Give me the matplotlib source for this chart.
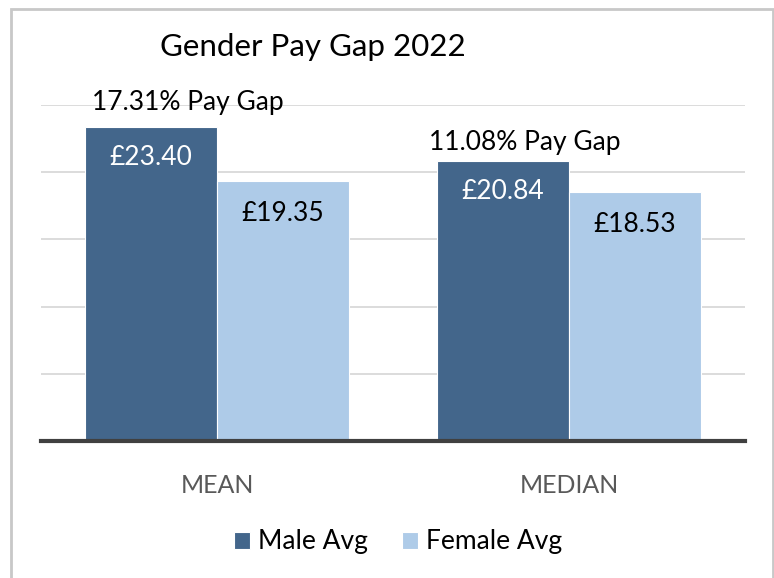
import matplotlib.pyplot as plt
import numpy as np
from matplotlib.patches import Rectangle

plt.rcParams['font.family'] = ['Lato', 'DejaVu Sans']

# data
categories = ["MEAN", "MEDIAN"]
male_avg = [23.40, 20.84]
female_avg = [19.35, 18.53]
pay_gap = ["17.31% Pay Gap", "11.08% Pay Gap"]

male_color = "#43668B"
female_color = "#AECBE8"

fig = plt.figure(figsize=(7.74, 5.78), dpi=100)
W, H = 774, 578

# grey chart frame
fig.patches.append(Rectangle((11 / W, -0.05), (773 - 11) / W, 1.05 - 9 / H,
                             transform=fig.transFigure, fill=False,
                             edgecolor="#C8C8C8", linewidth=2))

ax = fig.add_axes([41 / W, 1 - 441 / H, 704 / W, (441 - 105) / H])

x = np.arange(len(categories))
w = 0.375
b1 = ax.bar(x - w / 2, male_avg, w, color=male_color, edgecolor="white",
            linewidth=0.8, label="Male Avg", zorder=3)
b2 = ax.bar(x + w / 2, female_avg, w, color=female_color, edgecolor="white",
            linewidth=0.8, label="Female Avg", zorder=3)

ax.set_xlim(-0.5, 1.5)
ax.set_ylim(0, 25)
ax.set_yticks([5, 10, 15, 20, 25])
ax.yaxis.grid(True, color="#D9D9D9", linewidth=1.3, zorder=0)
ax.tick_params(axis="y", left=False, labelleft=False)
ax.tick_params(axis="x", bottom=False, labelsize=18, labelcolor="#595959", pad=20)
ax.set_xticks(x)
ax.set_xticklabels(categories)
for s in ["top", "right", "left"]:
    ax.spines[s].set_visible(False)
ax.spines["bottom"].set_color("#404040")
ax.spines["bottom"].set_linewidth(3)
ax.spines["bottom"].set_zorder(4)

# value labels inside the bars
for i in range(len(categories)):
    ax.annotate(f"£{male_avg[i]:.2f}", (x[i] - w / 2, male_avg[i]), xytext=(0, -31),
                textcoords="offset pixels", ha="center", va="center",
                color="white", fontsize=19, zorder=5)
    ax.annotate(f"£{female_avg[i]:.2f}", (x[i] + w / 2, female_avg[i]), xytext=(0, -33),
                textcoords="offset pixels", ha="center", va="center",
                color="black", fontsize=19, zorder=5)

# pay gap annotations
ax.annotate(pay_gap[0], (x[0] - w / 2, male_avg[0]), xytext=(37, 24),
            textcoords="offset pixels", ha="center", va="center", fontsize=19)
ax.annotate(pay_gap[1], (x[1] - w / 2, male_avg[1]), xytext=(22, 18),
            textcoords="offset pixels", ha="center", va="center", fontsize=19)

fig.text(313 / W, 1 - 47 / H, "Gender Pay Gap 2022", ha="center", va="center",
         fontsize=22.5)

fig.legend(handles=[b1, b2], loc="center", bbox_to_anchor=(398 / W, 1 - 542 / H),
           ncol=2, frameon=False, fontsize=19, handlelength=0.6, handleheight=0.6,
           handletextpad=0.3, columnspacing=1.3)

fig.savefig("out.png", dpi=100)
